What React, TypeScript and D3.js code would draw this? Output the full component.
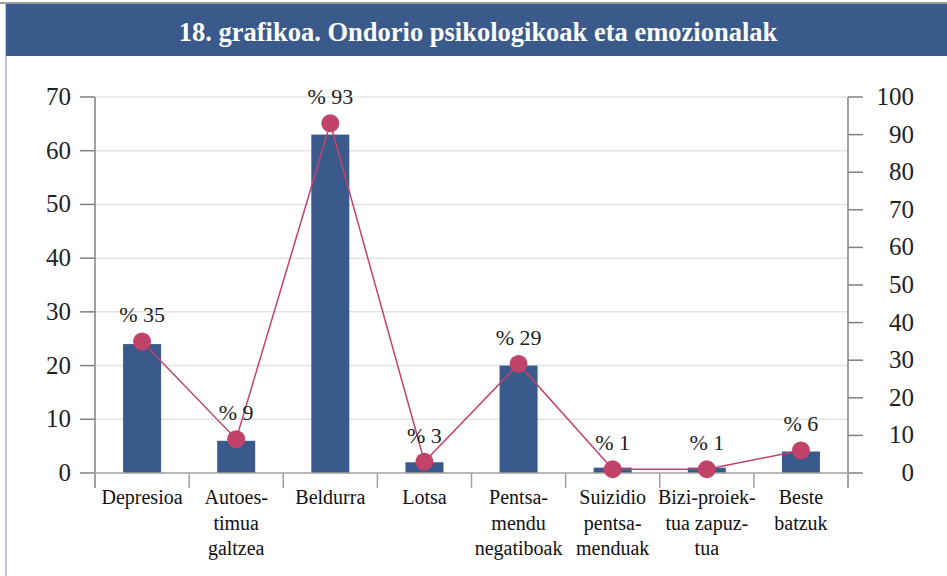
import React from "react";
import * as d3 from "d3";

const categories: string[][] = [
  ["Depresioa"],
  ["Autoes-", "timua", "galtzea"],
  ["Beldurra"],
  ["Lotsa"],
  ["Pentsa-", "mendu", "negatiboak"],
  ["Suizidio", "pentsa-", "menduak"],
  ["Bizi-proiek-", "tua zapuz-", "tua"],
  ["Beste", "batzuk"],
];
const barValues = [24, 6, 63, 2, 20, 1, 1, 4];
const lineValues = [35, 9, 93, 3, 29, 1, 1, 6];
const leftTicks = [0, 10, 20, 30, 40, 50, 60, 70];
const rightTicks = [0, 10, 20, 30, 40, 50, 60, 70, 80, 90, 100];
const title = "18. grafikoa. Ondorio psikologikoak eta emozionalak";

const W = 947;
const H = 576;
const left = 95;
const right = 848;
const top = 97;
const bottom = 473;
const blue = "#3b5a8c";
const pink = "#c2436a";
const ts = { fontFamily: "'Liberation Serif'" };
const css = "text, tspan { font-family: 'Liberation Serif', 'Times New Roman', Tinos; }";

export default function App() {
  const x = d3
    .scaleBand<number>()
    .domain(d3.range(categories.length))
    .range([left, right])
    .paddingInner(0);
  const yL = d3.scaleLinear().domain([0, 70]).range([bottom, top]);
  const yR = d3.scaleLinear().domain([0, 100]).range([bottom, top]);
  const bw = 38;
  const cx = (i: number) => (x(i) as number) + x.bandwidth() / 2;
  const line = d3
    .line<number>()
    .x((_, i) => cx(i))
    .y((d) => yR(d));

  return (
    <svg width={W} height={H} style={{ position: "absolute", left: 0, top: 0, background: "#fff" }}>
      <style>{css}</style>
      <rect x={0} y={0} width={W} height={H} fill="#fff" />
      <line x1={0} x2={W} y1={3} y2={3} stroke="#9a9a9a" strokeWidth={2} />
      <line x1={6} x2={6} y1={3} y2={H} stroke="#a9b6dc" strokeWidth={1.5} />
      <rect x={6} y={4} width={W - 6} height={52} fill={blue} />
      <text x={478} y={41} textAnchor="middle" fill="#fff" fontSize={26.5} fontWeight="bold" style={ts}>
        {title}
      </text>

      {leftTicks.map((t) => (
        <line key={"g" + t} x1={left} x2={right} y1={yL(t)} y2={yL(t)} stroke={t > 0 ? "#e3e3e3" : "none"} strokeWidth={1.5} />
      ))}
      {leftTicks.map((t) => (
        <line key={"lt" + t} x1={left - 15} x2={left} y1={yL(t)} y2={yL(t)} stroke="#808080" strokeWidth={1.5} />
      ))}
      {leftTicks.map((t) => (
        <text key={"ll" + t} x={71} y={yL(t) + 8} textAnchor="end" fontSize={25} fill="#222" style={ts}>
          {t}
        </text>
      ))}
      {rightTicks.map((t) => (
        <line key={"rt" + t} x1={right} x2={right + 15} y1={yR(t)} y2={yR(t)} stroke="#808080" strokeWidth={1.5} />
      ))}
      {rightTicks.map((t) => (
        <text key={"rl" + t} x={914} y={yR(t) + 8} textAnchor="end" fontSize={25} fill="#222" style={ts}>
          {t}
        </text>
      ))}

      {barValues.map((v, i) => (
        <rect
          key={"b" + i}
          x={cx(i) - bw / 2}
          y={yL(v)}
          width={bw}
          height={bottom - yL(v)}
          fill={blue}
        />
      ))}

      <line x1={left} x2={left} y1={top} y2={bottom + 15} stroke="#808080" strokeWidth={1.5} />
      <line x1={right} x2={right} y1={top} y2={bottom + 15} stroke="#808080" strokeWidth={1.5} />
      <line x1={left - 15} x2={right + 15} y1={bottom} y2={bottom} stroke="#a0a0a0" strokeWidth={1.5} />
      {d3.range(1, categories.length).map((i) => (
        <line
          key={"xt" + i}
          x1={x(i) as number}
          x2={x(i) as number}
          y1={bottom}
          y2={bottom + 15}
          stroke="#a0a0a0"
          strokeWidth={1.5}
        />
      ))}

      {categories.map((lines, i) =>
        lines.map((l, j) => (
          <text
            key={"c" + i + "-" + j}
            x={cx(i)}
            y={504 + j * 25.5}
            textAnchor="middle"
            fontSize={20}
            fill="#111"
            style={ts}
          >
            {l}
          </text>
        ))
      )}

      <path d={line(lineValues) || ""} fill="none" stroke={pink} strokeWidth={1.5} />
      {lineValues.map((v, i) => (
        <circle key={"p" + i} cx={cx(i)} cy={yR(v)} r={9} fill={pink} />
      ))}
      {lineValues.map((v, i) => (
        <text key={"pl" + i} x={cx(i)} y={yR(v) - 19} textAnchor="middle" fontSize={22} fill="#222" style={ts}>
          {"% " + v}
        </text>
      ))}
    </svg>
  );
}
